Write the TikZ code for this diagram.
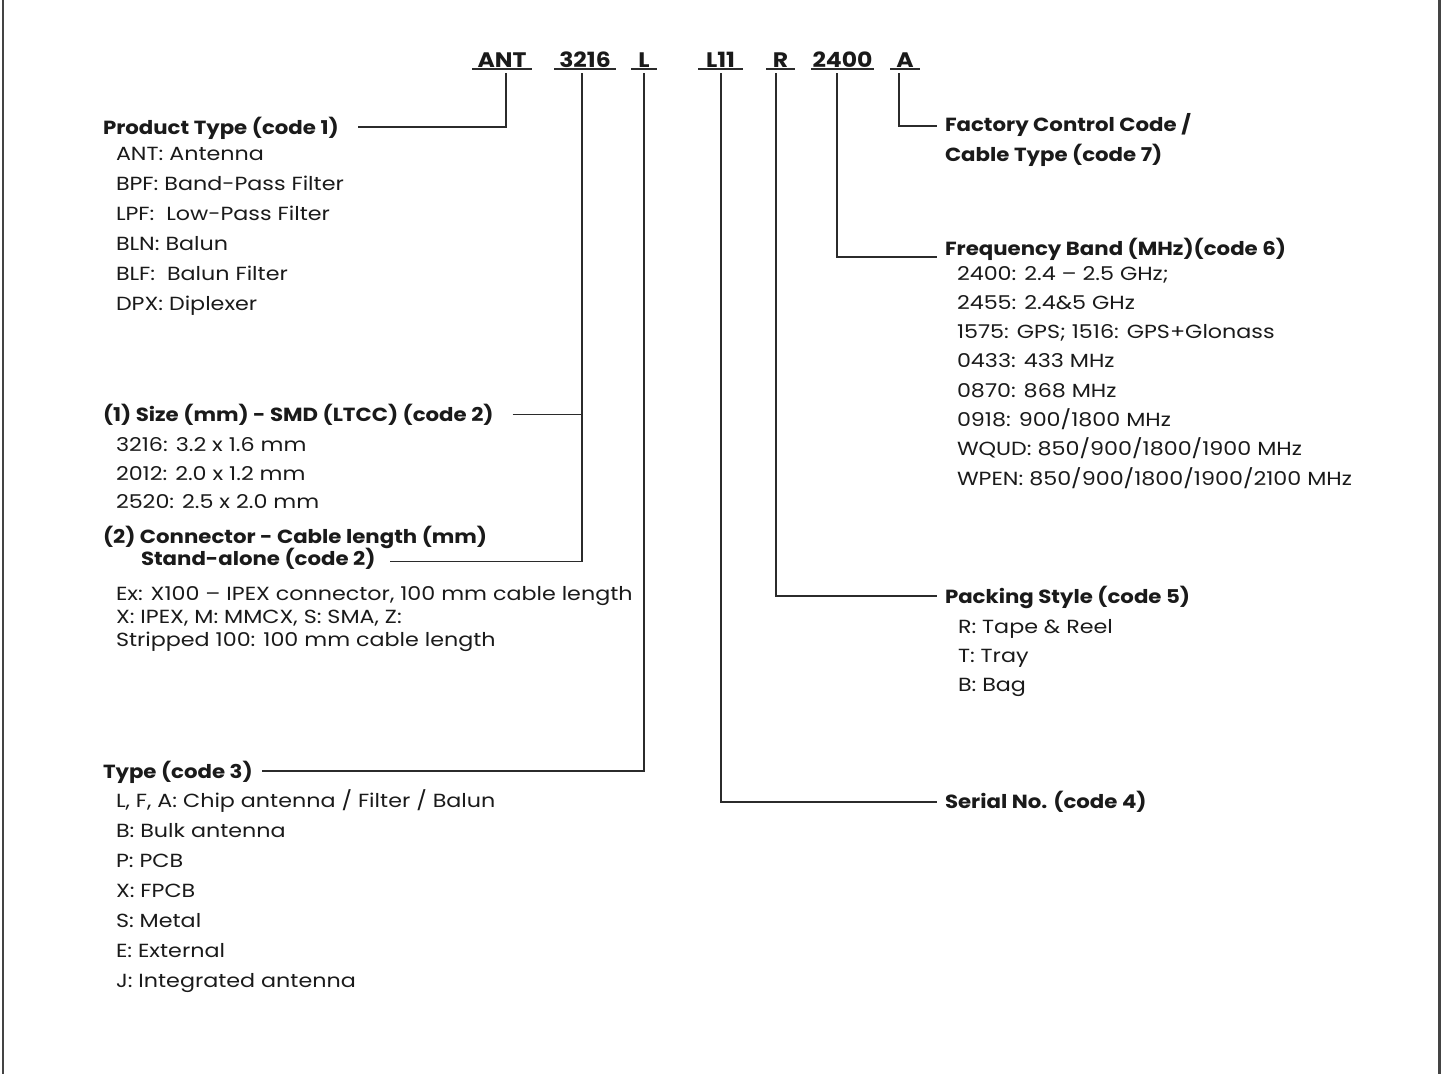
\documentclass[tikz,border=0pt]{standalone}
\usepackage{fontspec}
\setmainfont{Poppins}[UprightFeatures={FakeStretch=1.17}, BoldFeatures={FakeStretch=1.12}]
\definecolor{ink}{HTML}{1A1A1A}
\definecolor{wirec}{HTML}{2B2B2B}
\definecolor{framec}{HTML}{444444}
\begin{document}
\begin{tikzpicture}[x=1pt,y=-1pt,
  every node/.style={inner sep=0pt, outer sep=0pt, text=ink},
  codebox/.style={font=\fontsize{21}{26}\selectfont\bfseries, anchor=base},
  head/.style={font=\fontsize{19}{24}\selectfont\bfseries, anchor=base west},
  item/.style={font=\fontsize{19}{24}\selectfont, anchor=base west},
  wire/.style={draw=wirec, line width=1.3pt},
  uline/.style={draw=wirec, line width=1.5pt},
  frame/.style={draw=framec, line width=2.5pt}]
\useasboundingbox (0,0) rectangle (1442,1074);
\draw[frame] (3,0) -- (3,1074);
\draw[frame] (1439.5,0) -- (1439.5,1074);

% code row
\node[codebox, minimum width=60pt] (cANT) at (502,67) {ANT};
\node[codebox, minimum width=62pt] (c3216) at (585,67) {3216};
\node[codebox, minimum width=26pt] (cL) at (644,67) {L};
\node[codebox, minimum width=45pt] (cL11) at (720.5,67) {L11};
\node[codebox, minimum width=29pt] (cR) at (780.5,67) {R};
\node[codebox, minimum width=63pt] (c2400) at (842.5,67) {2400};
\node[codebox, minimum width=30pt] (cA) at (905,67) {A};
\foreach \n in {cANT,c3216,cL,cL11,cR,c2400,cA}
  \draw[uline] ([yshift=-2pt]\n.south west) -- ([yshift=-2pt]\n.south east);

\path ([xshift=4pt,yshift=-6pt]cANT.south) coordinate (dANT)
      ([xshift=-3pt,yshift=-6pt]c3216.south) coordinate (d3216)
      ([yshift=-6pt]cL.south) coordinate (dL)
      ([xshift=0.5pt,yshift=-6pt]cL11.south) coordinate (dL11)
      ([xshift=-4.5pt,yshift=-6pt]cR.south) coordinate (dR)
      ([xshift=-5.5pt,yshift=-6pt]c2400.south) coordinate (d2400)
      ([xshift=-6pt,yshift=-6pt]cA.south) coordinate (dA);

% code 1
\node[head] (hPT) at (103,134) {Product Type (code 1)};
\foreach \t [count=\i] in {ANT: Antenna, BPF: Band-Pass Filter, LPF:\ \ Low-Pass Filter, BLN: Balun, BLF:\ \ Balun Filter, DPX: Diplexer}
  \node[item] (pt\i) at (116,{160+30*(\i-1)}) {\t};

% code 2
\node[head] (hSZ) at (103,421.7) {(1) Size (mm) - SMD (LTCC) (code 2)};
\node[item] (sz1) at (116,451.7) {3216: 3.2 x 1.6 mm};
\node[item] (sz2) at (116,480) {2012: 2.0 x 1.2 mm};
\node[item] (sz3) at (116,508.3) {2520: 2.5 x 2.0 mm};
\node[head] (hCN) at (103,543.3) {(2) Connector - Cable length (mm)};
\node[head] (hSA) at (141,565) {Stand-alone (code 2)};
\node[item] (ex1) at (116,600) {Ex: X100 – IPEX connector, 100 mm cable length};
\node[item] (ex2) at (116,623.3) {X: IPEX, M: MMCX, S: SMA, Z:};
\node[item] (ex3) at (116,646.7) {Stripped 100: 100 mm cable length};

% code 3
\node[head] (hT) at (103,778) {Type (code 3)};
\foreach \t [count=\i] in {{L, F, A: Chip antenna / Filter / Balun}, B: Bulk antenna, P: PCB, X: FPCB, S: Metal, E: External, J: Integrated antenna}
  \node[item] (ty\i) at (116,{807+30*(\i-1)}) {\t};

% code 7
\node[head] (hFC) at (945,131) {Factory Control Code /};
\node[head] (hFC2) at (945,161) {Cable Type (code 7)};

% code 6
\node[head] (hFB) at (945,255) {Frequency Band (MHz)(code 6)};
\foreach \t [count=\i] in {2400: 2.4 – 2.5 GHz;, 2455: 2.4\&5 GHz, 1575: GPS; 1516: GPS+Glonass, 0433: 433 MHz, 0870: 868 MHz, 0918: 900/1800 MHz, WQUD: 850/900/1800/1900 MHz, WPEN: 850/900/1800/1900/2100 MHz}
  \node[item] (fb\i) at (957,{280+29.3*(\i-1)}) {\t};

% code 5
\node[head] (hPS) at (945,603) {Packing Style (code 5)};
\node[item] (ps1) at (958,633) {R: Tape \& Reel};
\node[item] (ps2) at (958,662) {T: Tray};
\node[item] (ps3) at (958,691) {B: Bag};

% code 4
\node[head] (hSN) at (945,808) {Serial No. (code 4)};

% connectors
\draw[wire] (dANT) |- ([xshift=19pt,yshift=7pt]hPT.base east);
\draw[wire] (d3216) |- ([xshift=14pt,yshift=3.3pt]hSA.base east);
\path ([xshift=19pt,yshift=7pt]hSZ.base east) coordinate (szl);
\draw[wire] (szl) -- (szl -| d3216);
\draw[wire] (dL) |- ([xshift=9pt,yshift=7pt]hT.base east);
\draw[wire] (dL11) |- ([xshift=-8pt,yshift=6pt]hSN.base west);
\draw[wire] (dR) |- ([xshift=-8pt,yshift=7pt]hPS.base west);
\draw[wire] (d2400) |- ([xshift=-8pt,yshift=-2pt]hFB.base west);
\draw[wire] (dA) |- ([xshift=-8pt,yshift=5pt]hFC.base west);
\end{tikzpicture}
\end{document}
